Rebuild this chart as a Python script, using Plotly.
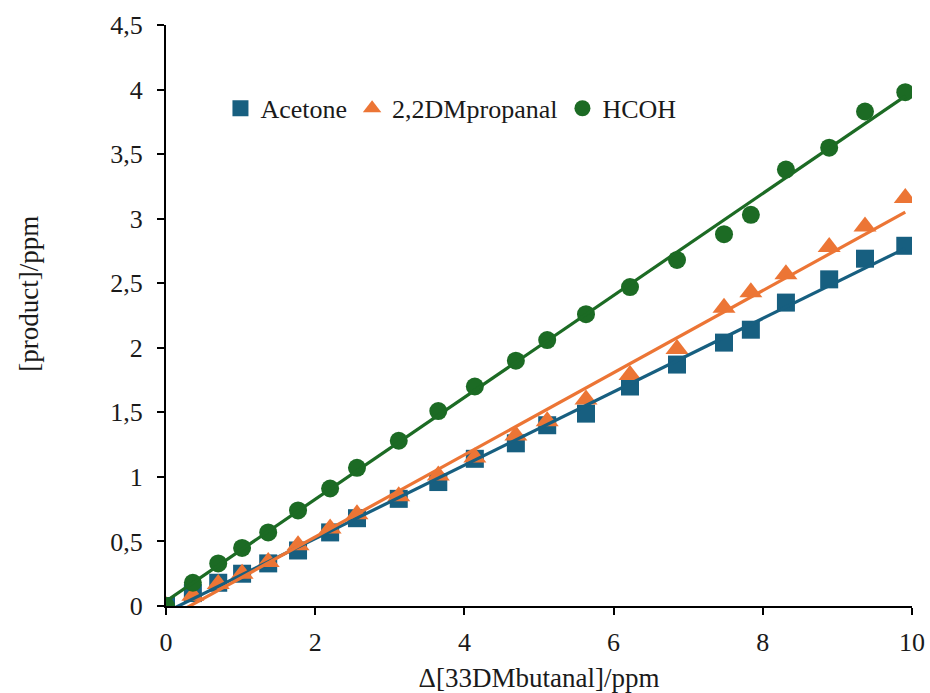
import numpy as np
import plotly.graph_objects as go

delta_33dmbutanal = [0, 0.36, 0.70, 1.02, 1.37, 1.77, 2.20, 2.56, 3.12, 3.65, 4.14,
                     4.69, 5.11, 5.63, 6.22, 6.85, 7.48, 7.84, 8.31, 8.89, 9.37, 9.91]
acetone = [0, 0.10, 0.18, 0.25, 0.33, 0.43, 0.57, 0.68, 0.83, 0.96, 1.14,
           1.26, 1.40, 1.49, 1.70, 1.87, 2.04, 2.14, 2.35, 2.53, 2.69, 2.79]
dm_propanal = [0, 0.08, 0.17, 0.25, 0.34, 0.47, 0.60, 0.71, 0.85, 1.01, 1.15,
               1.32, 1.43, 1.60, 1.79, 1.99, 2.31, 2.43, 2.57, 2.78, 2.94, 3.16]
hcoh = [0, 0.18, 0.33, 0.45, 0.57, 0.74, 0.91, 1.07, 1.28, 1.51, 1.70,
        1.90, 2.06, 2.26, 2.47, 2.68, 2.88, 3.03, 3.38, 3.55, 3.83, 3.98]

series = [
    ("Acetone", acetone, "#175f80", "square", 18),
    ("2,2DMpropanal", dm_propanal, "#ec7535", "triangle-up", 20),
    ("HCOH", hcoh, "#1c6b24", "circle", 18),
]

FONT = "Liberation Serif, Times New Roman, serif"
TXT = "#1a1a1a"
fig = go.Figure()
x = np.array(delta_33dmbutanal)
for name, ys, color, sym, sz in series:
    fig.add_trace(go.Scatter(x=delta_33dmbutanal, y=ys, mode="markers", name=name,
                             marker=dict(symbol=sym, size=sz, color=color, line=dict(width=0))))
for name, ys, color, sym, sz in series:
    k, b = np.polyfit(x, np.array(ys), 1)
    xl = [0, float(x.max())]
    fig.add_trace(go.Scatter(x=xl, y=[k * v + b for v in xl], mode="lines", showlegend=False,
                             line=dict(color=color, width=3.2), hoverinfo="skip"))

fig.add_annotation(text="[product]/ppm", textangle=-90, xref="paper", yref="paper",
                   x=-0.184, y=0.537, xanchor="center", yanchor="middle", showarrow=False,
                   font=dict(family=FONT, size=27, color=TXT))

fig.update_layout(
    width=930, height=693,
    margin=dict(l=166, r=18, t=25, b=87),
    paper_bgcolor="white", plot_bgcolor="white",
    separators=", ",
    font=dict(family=FONT, size=26, color=TXT),
    showlegend=True,
    legend=dict(orientation="h", x=0.073, y=0.897, xanchor="left", yanchor="top",
                font=dict(family=FONT, size=26, color=TXT),
                bgcolor="rgba(0,0,0,0)", itemwidth=30, traceorder="normal"),
    xaxis=dict(range=[0, 10], tickvals=[0, 2, 4, 6, 8, 10], showgrid=False, zeroline=False,
               showline=True, linecolor="black", linewidth=2, ticks="outside", ticklen=7,
               tickwidth=2, tickcolor="black", ticklabelstandoff=5, automargin=False,
               tickfont=dict(family=FONT, size=26, color=TXT),
               title=dict(text="Δ[33DMbutanal]/ppm", standoff=13,
                          font=dict(family=FONT, size=27, color=TXT))),
    yaxis=dict(range=[0, 4.5], tickvals=[0, 0.5, 1, 1.5, 2, 2.5, 3, 3.5, 4, 4.5], showgrid=False,
               zeroline=False, showline=True, linecolor="black", linewidth=2, ticks="outside",
               ticklen=7, tickwidth=2, tickcolor="black", ticklabelstandoff=9, automargin=False,
               tickfont=dict(family=FONT, size=26, color=TXT)),
)
fig.write_html("out.html")
